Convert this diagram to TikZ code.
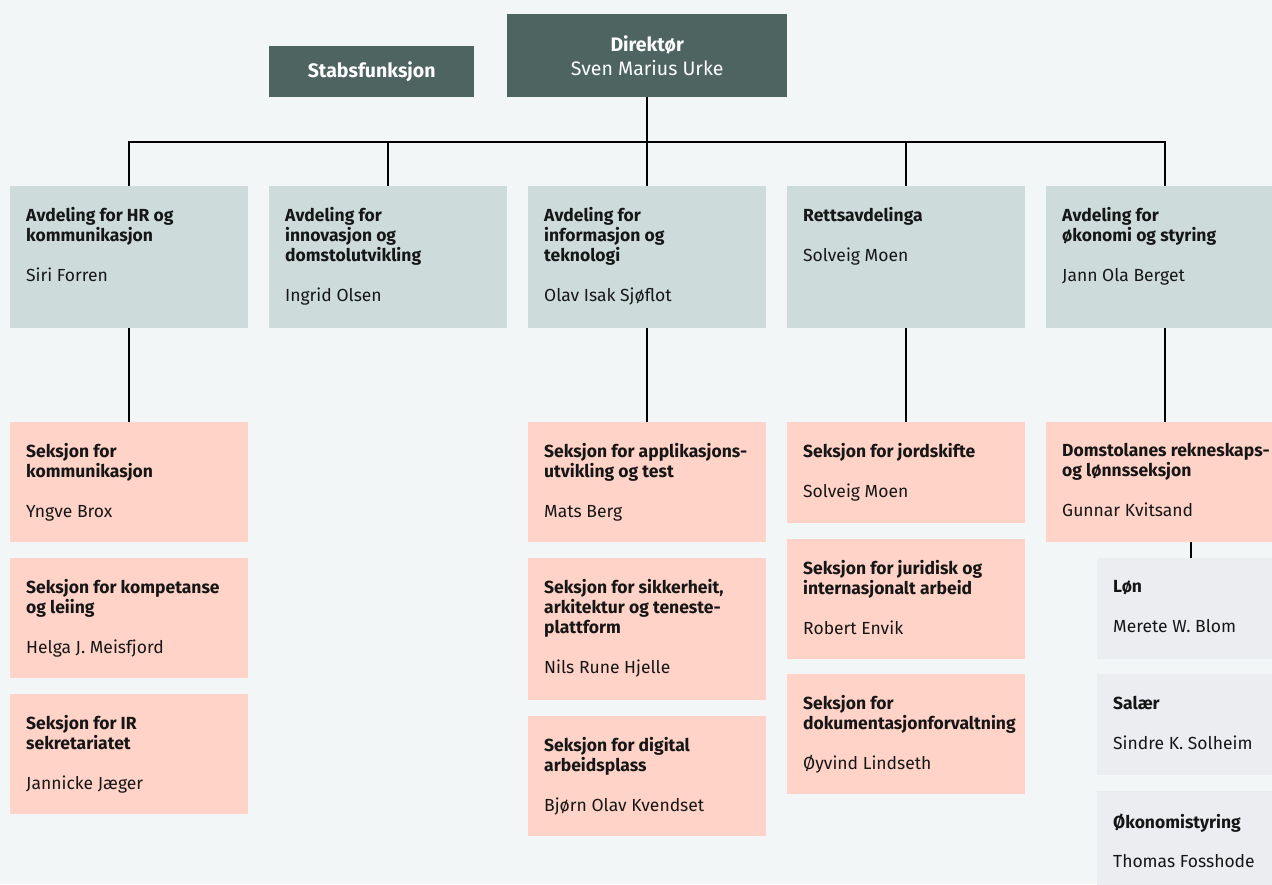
\documentclass[tikz,border=0pt]{standalone}
\usepackage{fontspec}
\setmainfont{Fira Sans}
\usepackage{xcolor}
\usetikzlibrary{positioning}

\definecolor{bgcol}{HTML}{F3F6F7}
\definecolor{headcol}{HTML}{4E6461}
\definecolor{deptcol}{HTML}{CDDCDB}
\definecolor{sectcol}{HTML}{FFD3C7}
\definecolor{unitcol}{HTML}{ECEDF1}
\definecolor{inkcol}{HTML}{161616}

\begin{document}
\begin{tikzpicture}
    [x=1pt, y=-1pt,
      every node/.style={inner sep=0pt},
      box/.style={rectangle, anchor=north west, minimum width=238pt},
      headbox/.style={box, fill=headcol, text=white, align=center,
        font=\fontsize{19.5}{24}\selectfont},
      deptbox/.style={box, fill=deptcol, minimum height=142pt},
      sectbox/.style={box, fill=sectcol, minimum height=120pt},
      unitbox/.style={box, fill=unitcol, minimum width=187pt, minimum height=101pt},
      txt/.style={anchor=north west, align=left, text=inkcol,
        font=\fontsize{17.5}{20}\selectfont},
      link/.style={draw=black, line width=2pt}]
    \useasboundingbox (0,0) rectangle (1272,884);
    \fill[bgcol] (0,0) rectangle (1272,884);

    % top level
    \node[headbox, minimum width=280pt, minimum height=83pt] (dir) at (507,14)
      {\textbf{Direktør}\\Sven Marius Urke};
    \node[headbox, minimum width=205pt, minimum height=51pt] (staff) at (269,46)
      {\textbf{Stabsfunksjon}};

    % departments
    \node[deptbox] (d1) at (10,186) {};
    \node[deptbox] (d2) at (269,186) {};
    \node[deptbox] (d3) at (528,186) {};
    \node[deptbox] (d4) at (787,186) {};
    \node[deptbox] (d5) at (1046,186) {};
    \node[txt, below right=21.5pt and 16pt of d1.north west] (d1t)
      {\textbf{Avdeling for HR og}\\\textbf{kommunikasjon}\\[19.5pt]Siri Forren};
    \node[txt, below right=21.5pt and 16pt of d2.north west] (d2t)
      {\textbf{Avdeling for}\\\textbf{innovasjon og}\\\textbf{domstolutvikling}\\[19.5pt]Ingrid Olsen};
    \node[txt, below right=21.5pt and 16pt of d3.north west] (d3t)
      {\textbf{Avdeling for}\\\textbf{informasjon og}\\\textbf{teknologi}\\[19.5pt]Olav Isak Sjøflot};
    \node[txt, below right=21.5pt and 16pt of d4.north west] (d4t)
      {\textbf{Rettsavdelinga}\\[19.5pt]Solveig Moen};
    \node[txt, below right=21.5pt and 16pt of d5.north west] (d5t)
      {\textbf{Avdeling for}\\\textbf{økonomi og styring}\\[19.5pt]Jann Ola Berget};

    % sections
    \node[sectbox] (s11) at (10,422) {};
    \node[sectbox] (s12) at (10,558) {};
    \node[sectbox] (s13) at (10,694) {};
    \node[sectbox] (s31) at (528,422) {};
    \node[sectbox, minimum height=142pt] (s32) at (528,558) {};
    \node[sectbox] (s33) at (528,716) {};
    \node[sectbox, minimum height=101pt] (s41) at (787,422) {};
    \node[sectbox] (s42) at (787,539) {};
    \node[sectbox] (s43) at (787,674) {};
    \node[sectbox] (s51) at (1046,422) {};
    \node[txt, below right=21.5pt and 16pt of s11.north west] (s11t)
      {\textbf{Seksjon for}\\\textbf{kommunikasjon}\\[19.5pt]Yngve Brox};
    \node[txt, below right=21.5pt and 16pt of s12.north west] (s12t)
      {\textbf{Seksjon for kompetanse}\\\textbf{og leiing}\\[19.5pt]Helga J. Meisfjord};
    \node[txt, below right=21.5pt and 16pt of s13.north west] (s13t)
      {\textbf{Seksjon for IR}\\\textbf{sekretariatet}\\[19.5pt]Jannicke Jæger};
    \node[txt, below right=21.5pt and 16pt of s31.north west] (s31t)
      {\textbf{Seksjon for applikasjons-}\\\textbf{utvikling og test}\\[19.5pt]Mats Berg};
    \node[txt, below right=21.5pt and 16pt of s32.north west] (s32t)
      {\textbf{Seksjon for sikkerheit,}\\\textbf{arkitektur og teneste-}\\\textbf{plattform}\\[19.5pt]Nils Rune Hjelle};
    \node[txt, below right=21.5pt and 16pt of s33.north west] (s33t)
      {\textbf{Seksjon for digital}\\\textbf{arbeidsplass}\\[19.5pt]Bjørn Olav Kvendset};
    \node[txt, below right=21.5pt and 16pt of s41.north west] (s41t)
      {\textbf{Seksjon for jordskifte}\\[19.5pt]Solveig Moen};
    \node[txt, below right=21.5pt and 16pt of s42.north west] (s42t)
      {\textbf{Seksjon for juridisk og}\\\textbf{internasjonalt arbeid}\\[19.5pt]Robert Envik};
    \node[txt, below right=21.5pt and 16pt of s43.north west] (s43t)
      {\textbf{Seksjon for}\\\textbf{dokumentasjonforvaltning}\\[19.5pt]Øyvind Lindseth};
    \node[txt, below right=21.5pt and 16pt of s51.north west] (s51t)
      {\textbf{Domstolanes rekneskaps-}\\\textbf{og lønnsseksjon}\\[19.5pt]Gunnar Kvitsand};

    % units under the accounting section
    \node[unitbox] (u1) at (1097,558) {};
    \node[unitbox] (u2) at (1097,674) {};
    \node[unitbox] (u3) at (1097,791) {};
    \node[txt, below right=22.5pt and 16pt of u1.north west] (u1t)
      {\textbf{Løn}\\[19.5pt]Merete W. Blom};
    \node[txt, below right=22.5pt and 16pt of u2.north west] (u2t)
      {\textbf{Salær}\\[19.5pt]Sindre K. Solheim};
    \node[txt, below right=22.5pt and 16pt of u3.north west] (u3t)
      {\textbf{Økonomistyring}\\[19.5pt]Thomas Fosshode};

    % connectors
    \draw[link] (dir.south) -- (d3.north);
    \draw[link] (d1.north) -- ++(0,-44) -| (d5.north);
    \draw[link] (d2.north) -- ++(0,-44);
    \draw[link] (d4.north) -- ++(0,-44);
    \draw[link] (d1.south) -- (s11.north);
    \draw[link] (d3.south) -- (s31.north);
    \draw[link] (d4.south) -- (s41.north);
    \draw[link] (d5.south) -- (s51.north);
    \draw[link] (u1.north |- s51.south) -- (u1.north);
  \end{tikzpicture}
\end{document}
